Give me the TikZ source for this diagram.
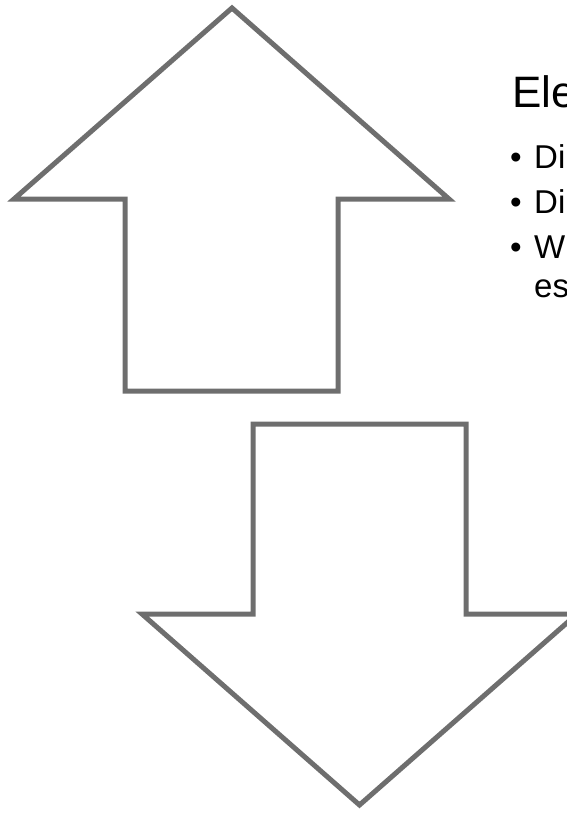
\documentclass[tikz,border=0pt]{standalone}
\usepackage{fontspec}
\setmainfont{Liberation Sans}
\tikzset{
  blockarrow/.style={draw=arrowgray,line width=5pt,miter limit=10},
  heading/.style={anchor=base west,inner sep=0pt,font=\fontsize{44}{52}\selectfont},
  item/.style={anchor=base west,inner sep=0pt,font=\fontsize{33}{39}\selectfont},
}
\definecolor{arrowgray}{HTML}{6E6E6E}
\begin{document}
\begin{tikzpicture}[x=1pt,y=-1pt]
                \useasboundingbox (0,0) rectangle (567,814);
                \clip (0,0) rectangle (567,814);
                %% up arrow
                \draw[blockarrow] (232,8) -- (449,199) -- (338,199) -- (338,391)
                    -- (125,391) -- (125,199) -- (14,199) -- cycle;
                %% down arrow
                \draw[blockarrow] (253,424) -- (466,424) -- (466,614) -- (577,614)
                    -- (359.5,805) -- (142,614) -- (253,614) -- cycle;
                %% heading
                \node[heading] (title) at (512,107) {Ele};
                %% bullets
                \node[item] (bulletA) at (510,168) {\textbullet};
                \node[item] (lineA) at (534,168) {Di};
                \node[item] (bulletB) at (510,213) {\textbullet};
                \node[item] (lineB) at (534,213) {Di};
                \node[item] (bulletC) at (510,258) {\textbullet};
                \node[item] (lineC) at (534,258) {W};
                \node[item] (lineD) at (534,297) {es};
            \end{tikzpicture}
\end{document}
